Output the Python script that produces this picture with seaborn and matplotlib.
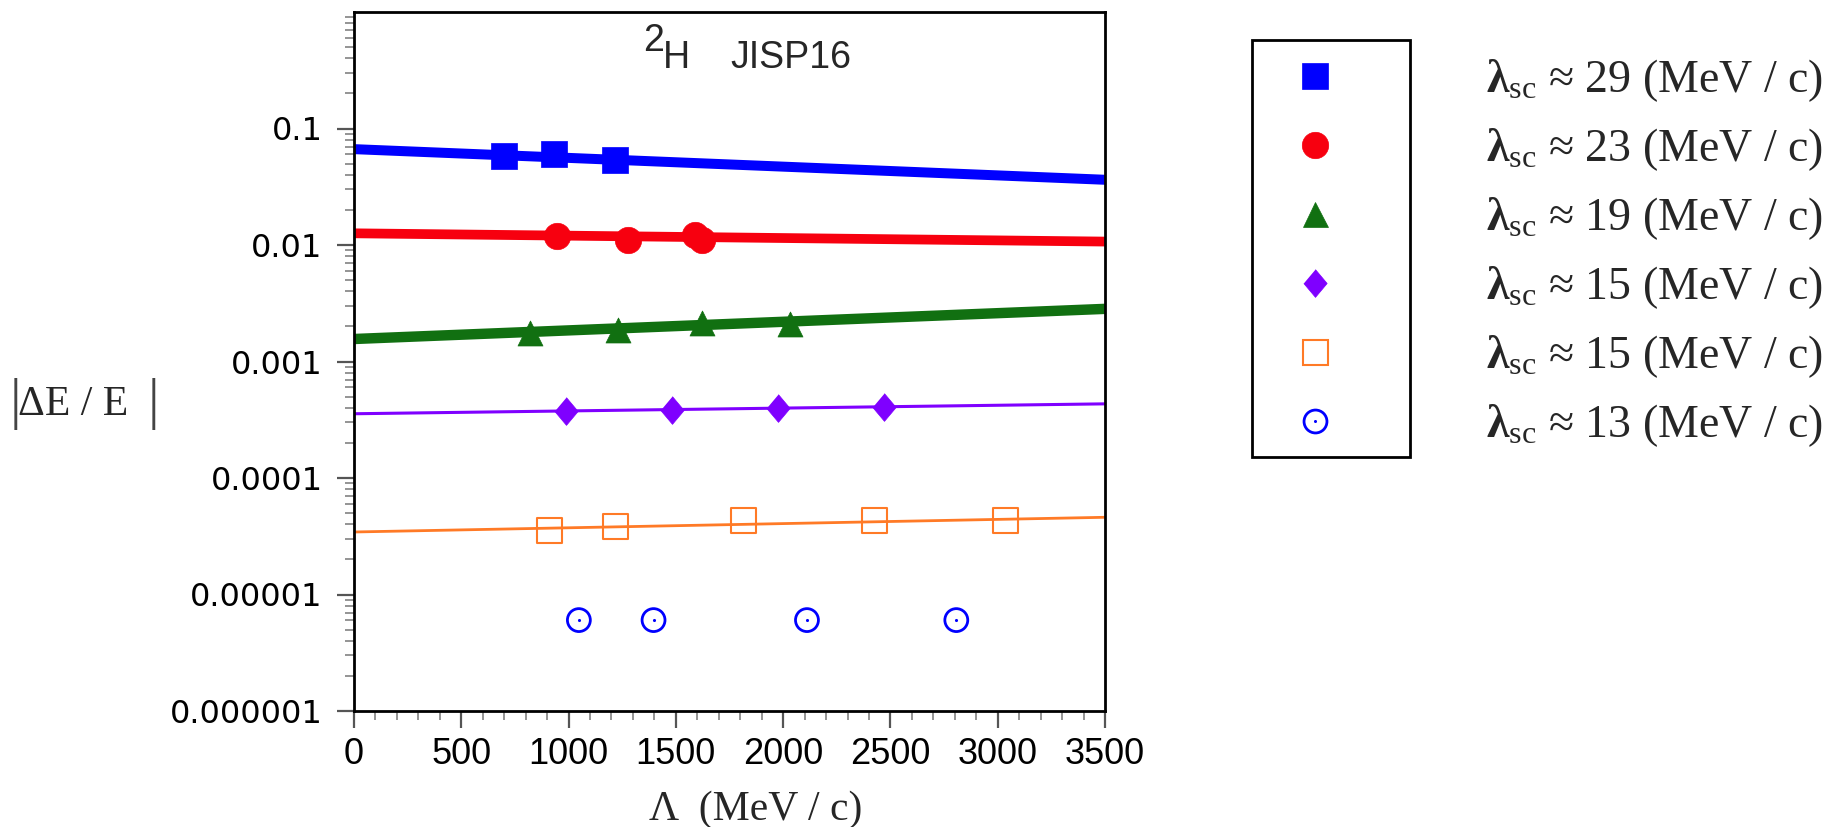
import numpy as np
import matplotlib
matplotlib.use("Agg")
import matplotlib.pyplot as plt
from matplotlib.lines import Line2D
from matplotlib.patches import Rectangle
from matplotlib.legend_handler import HandlerTuple
from matplotlib.ticker import FixedLocator, FixedFormatter, MultipleLocator, LogLocator, NullFormatter
import seaborn as sns

# --- CONFIGURATION ---
OUT_FILE = "out.png"
FIG_W, FIG_H = 1840, 827

# --- DATA ---
FIT_X = [0, 3500]

SC29_X = [700, 932, 1215]
SC29_Y = [0.0583, 0.0603, 0.0539]
SC29_FIT = [0.0665, 0.0363]

SC23_X = [944, 1276, 1587, 1624]
SC23_Y = [0.0120, 0.0111, 0.0122, 0.0111]
SC23_FIT = [0.0126, 0.0107]

SC19_X = [819, 1229, 1621, 2030]
SC19_Y = [0.00174, 0.00187, 0.00212, 0.00211]
SC19_FIT = [0.00156, 0.00283]

SC15A_X = [986, 1482, 1976, 2470]
SC15A_Y = [0.000373, 0.000385, 0.000398, 0.000404]
SC15A_FIT = [0.000356, 0.000433]

SC15B_X = [909, 1218, 1814, 2428, 3038]
SC15B_Y = [3.54e-5, 3.83e-5, 4.34e-5, 4.34e-5, 4.34e-5]
SC15B_FIT = [3.44e-5, 4.6e-5]

SC13_X = [1048, 1396, 2111, 2807]
SC13_Y = [6.03e-6, 6.03e-6, 6.03e-6, 6.03e-6]

LAMBDA_SC = ["29", "23", "19", "15", "15", "13"]

XTICKS = [0, 500, 1000, 1500, 2000, 2500, 3000, 3500]
XTICK_LABELS = ["0", "500", "1000", "1500", "2000", "2500", "3000", "3500"]
YTICKS = [1e-6, 1e-5, 1e-4, 1e-3, 1e-2, 1e-1]
YTICK_LABELS = ["0.000001", "0.00001", "0.0001", "0.001", "0.01", "0.1"]

# --- STYLE ---
DIAMOND = [(0, 1), (0.84, 0), (0, -1), (-0.84, 0)]
STYLES = [
    dict(color="#0000ff", marker="s", ms=19, lw=7.2, fill=True),
    dict(color="#f7000f", marker="o", ms=19, lw=7.0, fill=True),
    dict(color="#117011", marker="^", ms=18, lw=7.5, fill=True),
    dict(color="#7f00ff", marker=DIAMOND, ms=20, lw=2.2, fill=True),
    dict(color="#ff7a26", marker="s", ms=18, lw=2.0, fill=False, mew=1.5),
    dict(color="#0000ff", marker="o", ms=16.5, lw=0, fill=False, mew=2.0),
]

sns.set_theme(style="ticks")
plt.rcParams["font.family"] = ["Liberation Sans", "DejaVu Sans"]
plt.rcParams["mathtext.fontset"] = "custom"
plt.rcParams["mathtext.rm"] = "Liberation Serif"
plt.rcParams["mathtext.it"] = "Liberation Serif:italic"
plt.rcParams["mathtext.bf"] = "Liberation Serif:bold"
SERIF = ["Liberation Serif", "DejaVu Serif"]


def fx(px):
    return px / FIG_W


def fy(py):
    return 1 - py / FIG_H


fig = plt.figure(figsize=(FIG_W / 100, FIG_H / 100), dpi=100)
fig.patch.set_facecolor("white")
ax = fig.add_axes([fx(354), fy(711), fx(1105) - fx(354), fy(12) - fy(711)])
ax.set_facecolor("white")
ax.set_yscale("log")

series = [
    (SC29_X, SC29_Y, SC29_FIT),
    (SC23_X, SC23_Y, SC23_FIT),
    (SC19_X, SC19_Y, SC19_FIT),
    (SC15A_X, SC15A_Y, SC15A_FIT),
    (SC15B_X, SC15B_Y, SC15B_FIT),
    (SC13_X, SC13_Y, None),
]

for (xs, ys, fit), st in zip(series, STYLES):
    if fit is not None:
        sns.lineplot(x=FIT_X, y=fit, color=st["color"], linewidth=st["lw"],
                     ax=ax, legend=False, zorder=2)
    if st["fill"]:
        sns.scatterplot(x=xs, y=ys, marker=st["marker"], s=st["ms"] ** 2,
                        color=st["color"], edgecolor=st["color"], linewidth=0.5,
                        ax=ax, legend=False, zorder=3)
    else:
        sns.scatterplot(x=xs, y=ys, marker=st["marker"], s=st["ms"] ** 2,
                        facecolor="none", edgecolor=st["color"], linewidth=st["mew"],
                        ax=ax, legend=False, zorder=3)

# little dot in the middle of the open circles
sns.scatterplot(x=SC13_X, y=SC13_Y, marker="o", s=5, color=STYLES[5]["color"],
                edgecolor=STYLES[5]["color"], linewidth=0, ax=ax, legend=False, zorder=4)

# axes, ticks
ax.set_xlim(0, 3500)
ax.set_ylim(1e-6, 1)
ax.xaxis.set_major_locator(FixedLocator(XTICKS))
ax.xaxis.set_major_formatter(FixedFormatter(XTICK_LABELS))
ax.xaxis.set_minor_locator(MultipleLocator(100))
ax.yaxis.set_major_locator(FixedLocator(YTICKS))
ax.yaxis.set_major_formatter(FixedFormatter(YTICK_LABELS))
ax.yaxis.set_minor_locator(LogLocator(base=10, subs=np.arange(2, 10), numticks=30))
ax.yaxis.set_minor_formatter(NullFormatter())
ax.set_xlabel("")
ax.set_ylabel("")

ax.tick_params(axis="both", which="major", direction="out", length=12.5, width=1.6,
               color="#555555", labelcolor="black")
ax.tick_params(axis="both", which="minor", direction="out", length=6.5, width=1.1,
               color="#777777")
ax.tick_params(axis="y", which="major", labelsize=23, pad=10)
ax.tick_params(axis="x", which="major", labelsize=26, pad=6.5)
for lab in ax.get_yticklabels():
    lab.set_family(["DejaVu Sans"])
for sp in ax.spines.values():
    sp.set_visible(True)
    sp.set_linewidth(2)
    sp.set_color("black")

# title inside the plot
fig.text(fx(643), fy(51), "2", fontsize=27, ha="left", va="baseline")
fig.text(fx(663), fy(68), "H", fontsize=27, ha="left", va="baseline")
fig.text(fx(730), fy(68), "JISP16", fontsize=27, ha="left", va="baseline")

# axis labels
fig.text(fx(756), fy(820), "Λ  (MeV / c)", fontsize=30, family=SERIF,
         ha="center", va="baseline")
fig.text(fx(18), fy(415), "ΔE / E", fontsize=30, family=SERIF,
         ha="left", va="baseline")
for bx in (15, 153):
    fig.text(fx(bx), fy(404), "|", fontsize=42, family=SERIF, color="#444444",
             ha="center", va="center")

# legend: markers in a box, labels to the right
handles = []
for st in STYLES[:5]:
    if st["fill"]:
        h = Line2D([], [], ls="none", marker=st["marker"], markersize=st["ms"],
                   mfc=st["color"], mec=st["color"], mew=0.5)
    else:
        h = Line2D([], [], ls="none", marker=st["marker"], markersize=st["ms"],
                   mfc="none", mec=st["color"], mew=st["mew"])
    handles.append(h)
ring = Line2D([], [], ls="none", marker="o", markersize=STYLES[5]["ms"],
              mfc="none", mec=STYLES[5]["color"], mew=STYLES[5]["mew"])
dot = Line2D([], [], ls="none", marker="o", markersize=2.2,
             mfc=STYLES[5]["color"], mec=STYLES[5]["color"], mew=0)
handles.append((ring, dot))

labels = [r"$\mathbf{\lambda}_{\mathrm{sc}}$ ≈ " + v + " (MeV / c)" for v in LAMBDA_SC]
fs = 33
leg = fig.legend(handles=handles, labels=labels, loc="upper left",
                 bbox_to_anchor=(fx(1293), fy(57)), bbox_transform=fig.transFigure,
                 frameon=False, prop={"family": SERIF, "size": fs},
                 handlelength=0.97, handletextpad=3.24, labelspacing=0.485,
                 borderpad=0, borderaxespad=0,
                 handler_map={tuple: HandlerTuple(ndivide=1)})

fig.add_artist(Rectangle((fx(1252), fy(457)), fx(1410) - fx(1252), fy(40) - fy(457),
                         transform=fig.transFigure, fill=False, lw=2, ec="black"))

fig.savefig(OUT_FILE, dpi=100, facecolor="white")
plt.close(fig)
